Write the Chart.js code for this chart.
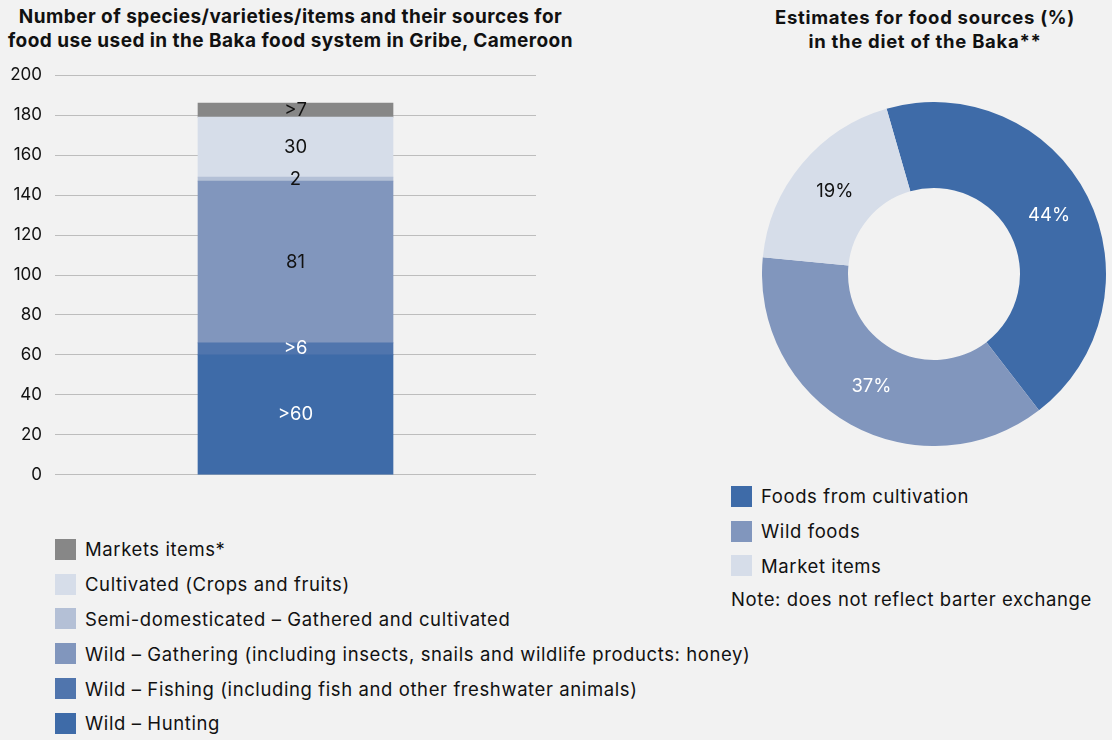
<!DOCTYPE html>
<html>
<head>
<meta charset="utf-8">
<script src="https://cdn.jsdelivr.net/npm/chart.js@4"></script>
<style>
  html, body { margin: 0; padding: 0; }
  body {
    width: 1112px; height: 740px; position: relative; overflow: hidden;
    background: #f2f2f2; color: #111; font-family: Inter, sans-serif;
  }
  .title {
    position: absolute; font-weight: 700; text-align: center;
    line-height: 24px; white-space: nowrap;
  }
  #bar-title { left: 0; width: 581px; top: 5px; font-size: 19px; letter-spacing: 0.45px; }
  #pie-title { left: 740px; width: 370px; top: 5px; font-size: 18.5px; letter-spacing: 0.7px; }
  #bar-wrap { position: absolute; left: 0; top: 52px; width: 536px; height: 446px; }
  #pie-wrap { position: absolute; left: 762px; top: 102px; width: 344px; height: 344px; }
  .legend { position: absolute; margin: 0; padding: 0; list-style: none; }
  .legend li { display: flex; align-items: center; font-size: 18.5px; letter-spacing: 0.6px; white-space: nowrap; }
  .legend .sw { width: 21px; height: 21px; margin-right: 9px; flex: none; }
  #bar-legend { left: 55px; top: 532px; }
  #bar-legend li { height: 34.8px; }
  #pie-legend { left: 731px; top: 479px; }
  #pie-legend li { height: 34.8px; }
  #pie-note { position: absolute; left: 731px; top: 588px; font-size: 18.5px; letter-spacing: 0.6px; white-space: nowrap; }
</style>
</head>
<body>
  <div id="bar-title" class="title">Number of species/varieties/items and their sources for<br>food use used in the Baka food system in Gribe, Cameroon</div>
  <div id="pie-title" class="title">Estimates for food sources (%)<br>in the diet of the Baka**</div>
  <div id="bar-wrap"><canvas id="bar-chart"></canvas></div>
  <div id="pie-wrap"><canvas id="pie-chart"></canvas></div>
  <ul id="bar-legend" class="legend"></ul>
  <ul id="pie-legend" class="legend"></ul>
  <div id="pie-note">Note: does not reflect barter exchange</div>

<script>
// ── 데이터 ─────────────────────────────────────────────────────────────
const barCategories = ['Gribe'];
const barSeries = [
  'Wild – Hunting',
  'Wild – Fishing (including fish and other freshwater animals)',
  'Wild – Gathering (including insects, snails and wildlife products: honey)',
  'Semi-domesticated – Gathered and cultivated',
  'Cultivated (Crops and fruits)',
  'Markets items*'
];
const barValues = [60, 6, 81, 2, 30, 7];
const barLabels = ['>60', '>6', '81', '2', '30', '>7'];
const barColors = ['#3e6ba8', '#5075ad', '#8196bd', '#b4c0d6', '#d6dde9', '#878787'];
const barLabelColors = ['#fff', '#fff', '#111', '#111', '#111', '#111'];
const yTicks = { min: 0, max: 200, step: 20 };

const pieLabels = ['Foods from cultivation', 'Wild foods', 'Market items'];
const pieValues = [44, 37, 19];
const pieColors = ['#3e6ba8', '#8196bd', '#d6dde9'];
const pieLabelColors = ['#fff', '#fff', '#111'];

const FONT = 'Inter, sans-serif';

// ── 막대/도넛 안에 값 표시 (조각 가운데) ───────────────────────────────
const inlineLabels = {
  id: 'inlineLabels',
  afterDatasetsDraw(chart, args, opts) {
    const ctx = chart.ctx;
    const isBar = chart.config.type === 'bar';
    ctx.save();
    ctx.font = opts.size + 'px ' + FONT;
    ctx.textAlign = 'center';
    ctx.textBaseline = 'middle';
    chart.data.datasets.forEach((ds, di) => {
      chart.getDatasetMeta(di).data.forEach((elem, i) => {
        const idx = isBar ? di : i;
        let x, y;
        if (isBar) {
          const p = elem.getProps(['x', 'y', 'base'], true);
          x = p.x; y = (p.y + p.base) / 2;
        } else {
          ({ x, y } = elem.tooltipPosition());
        }
        ctx.fillStyle = opts.colors[idx];
        ctx.fillText(opts.texts[idx], x, y);
      });
    });
    ctx.restore();
  }
};

// ── 누적 막대 ──────────────────────────────────────────────────────────
new Chart(document.getElementById('bar-chart'), {
  type: 'bar',
  data: {
    labels: barCategories,
    datasets: barSeries.map((name, i) => ({
      label: name,
      data: [barValues[i]],
      backgroundColor: barColors[i],
      borderWidth: 0,
      barThickness: 195
    }))
  },
  options: {
    responsive: true, maintainAspectRatio: false, animation: false,
    layout: { padding: { top: 10, bottom: 10 } },
    plugins: {
      legend: { display: false }, tooltip: { enabled: false },
      inlineLabels: { texts: barLabels, colors: barLabelColors, size: 18.5 }
    },
    scales: {
      x: { stacked: true, display: false },
      y: {
        stacked: true, min: yTicks.min, max: yTicks.max,
        afterFit: (s) => { s.width = 55; },
        border: { display: false },
        grid: { color: '#bdbdbd', lineWidth: 1, drawTicks: false },
        ticks: { stepSize: yTicks.step, padding: 13, color: '#111', font: { family: FONT, size: 17 } }
      }
    }
  },
  plugins: [inlineLabels]
});

// ── 도넛 ───────────────────────────────────────────────────────────────
new Chart(document.getElementById('pie-chart'), {
  type: 'doughnut',
  data: {
    labels: pieLabels,
    datasets: [{ data: pieValues, backgroundColor: pieColors, borderWidth: 0 }]
  },
  options: {
    responsive: true, maintainAspectRatio: false, animation: false,
    rotation: -16, cutout: '50%',
    plugins: {
      legend: { display: false }, tooltip: { enabled: false },
      inlineLabels: { texts: pieValues.map(v => v + '%'), colors: pieLabelColors, size: 18.5 }
    }
  },
  plugins: [inlineLabels]
});

// ── 범례 ───────────────────────────────────────────────────────────────
function fillLegend(id, names, colors) {
  document.getElementById(id).innerHTML = names.map((n, i) =>
    `<li><span class="sw" style="background:${colors[i]}"></span>${n}</li>`
  ).join('');
}
fillLegend('bar-legend', barSeries.slice().reverse(), barColors.slice().reverse());
fillLegend('pie-legend', pieLabels, pieColors);
</script>
</body>
</html>
